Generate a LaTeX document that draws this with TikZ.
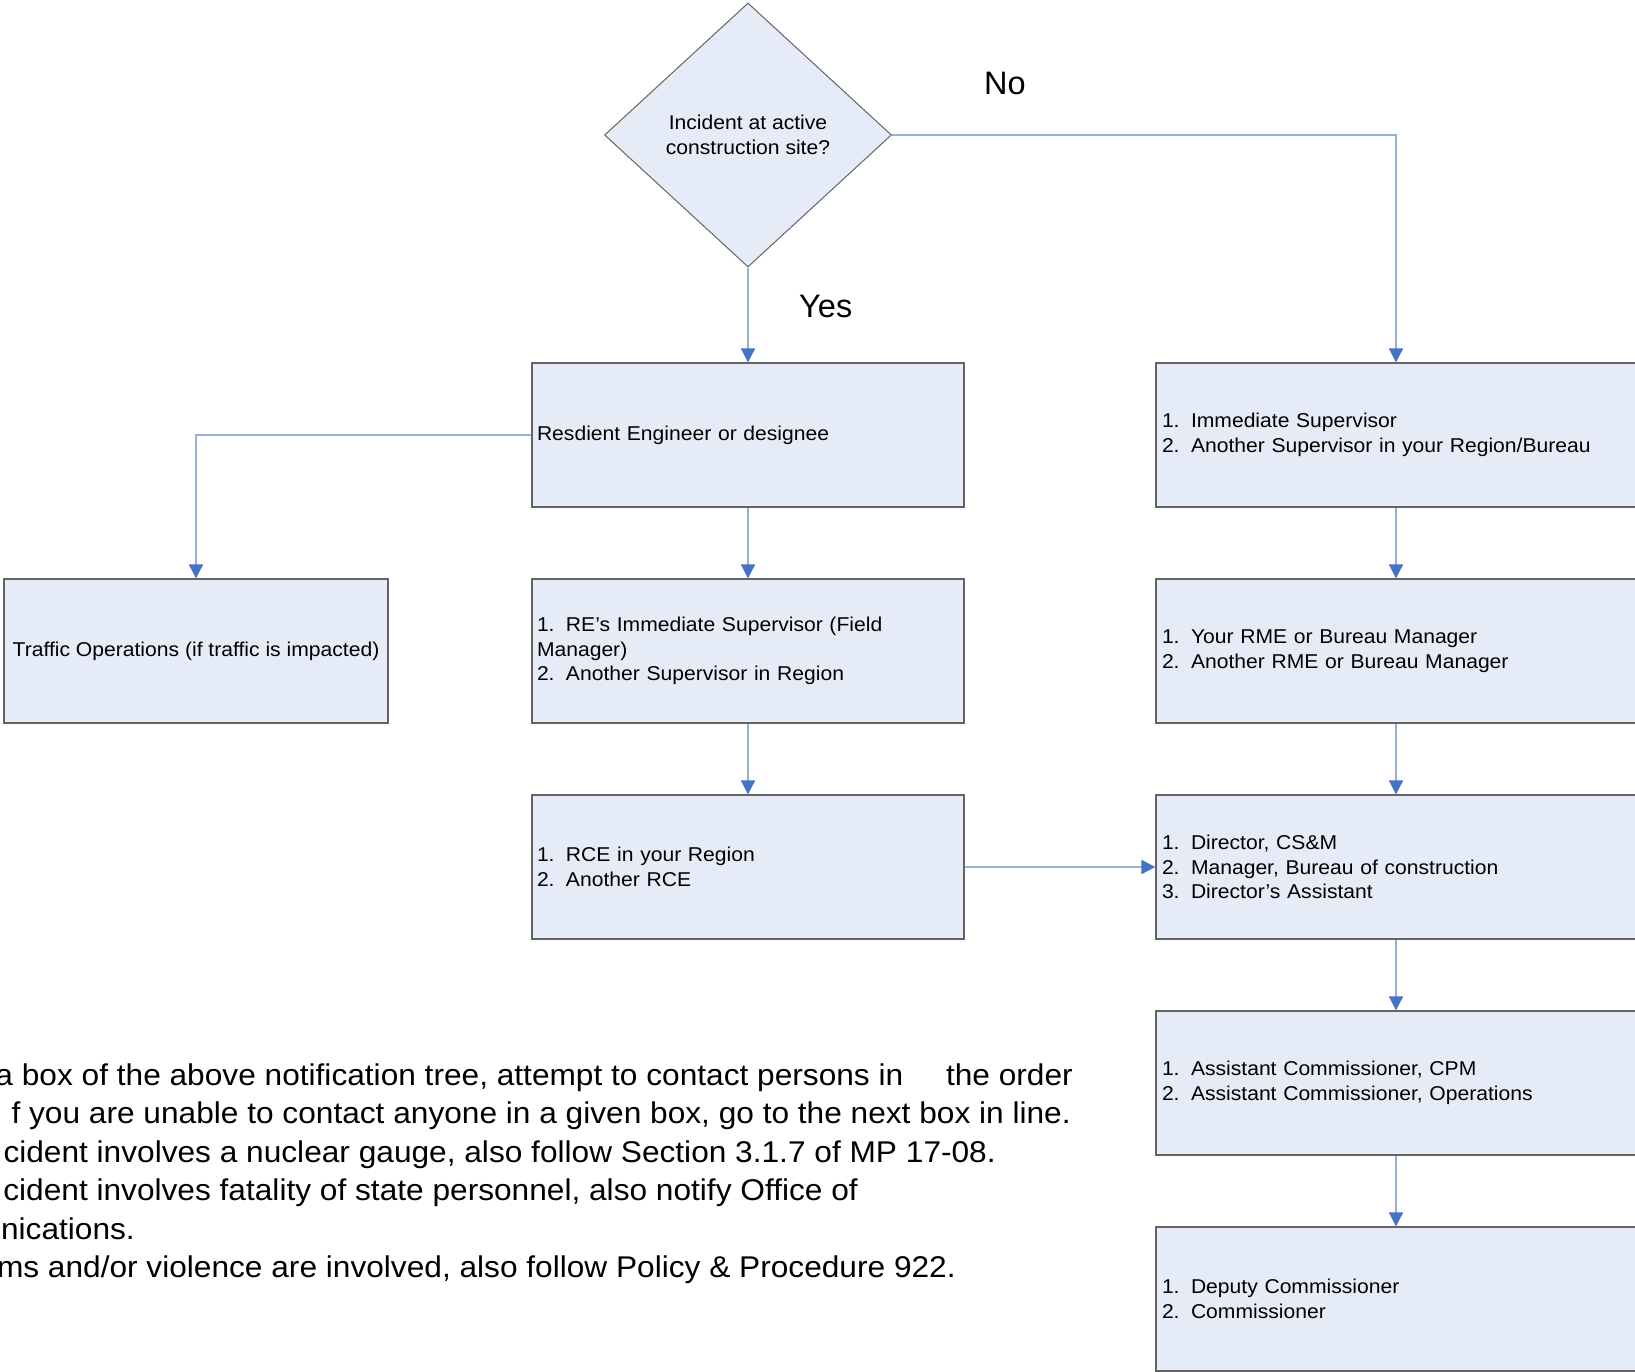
\documentclass[tikz,border=0pt]{standalone}
\usepackage{fontspec}
\setmainfont[FakeStretch=1.055]{Liberation Sans}
\newfontfamily\plainfont{Liberation Sans}
\usetikzlibrary{shapes.geometric,arrows.meta}
\definecolor{boxfill}{RGB}{230,236,247}
\definecolor{boxline}{RGB}{100,100,100}
\definecolor{connc}{RGB}{149,179,215}
\definecolor{tipc}{RGB}{68,114,196}
\newcommand\bxfont{\fontsize{20}{24.7}\selectfont}
\newcommand\notefont{\fontsize{30}{38.5}\selectfont}
\newcommand\lblfont{\plainfont\fontsize{32.5}{36}\selectfont}
\newcommand\itm[1]{\makebox[29pt][l]{#1}}
\begin{document}
\begin{tikzpicture}[x=1pt,y=-1pt,
  box/.style={draw=boxline,line width=1.3pt,fill=boxfill,rectangle,minimum height=144pt,inner ysep=0pt,font=\bxfont},
  midbox/.style={box,minimum width=432pt,text width=422pt,inner xsep=5pt,align=left},
  rbox/.style={box,minimum width=480pt,text width=468pt,inner xsep=6pt,align=left},
  conn/.style={draw=connc,line width=2pt,-{Triangle[width=14pt,length=14pt,color=tipc,fill=tipc]}},
  note/.style={anchor=base east,inner sep=0pt,font=\notefont},
  lbl/.style={anchor=base west,inner sep=0pt,font=\lblfont}]
\useasboundingbox[fill=white] (0,0) rectangle (1635,1371);

\node[diamond,draw=boxline,line width=1pt,fill=boxfill,minimum width=287pt,minimum height=264pt,inner sep=0pt,align=center,font=\bxfont] (dia) at (748,135) {Incident at active\\construction site?};

\node[midbox] (m1) at (748,435) {Resdient Engineer or designee};
\node[midbox] (m2) at (748,651) {\itm{1.}RE’s Immediate Supervisor (Field\\Manager)\\\itm{2.}Another Supervisor in Region};
\node[midbox] (m3) at (748,867) {\itm{1.}RCE in your Region\\\itm{2.}Another RCE};

\node[box,minimum width=384pt,inner xsep=2pt,align=center] (tr) at (196,651) {Traffic Operations (if traffic is impacted)};

\node[rbox] (r1) at (1396,435) {\itm{1.}Immediate Supervisor\\\itm{2.}Another Supervisor in your Region/Bureau};
\node[rbox] (r2) at (1396,651) {\itm{1.}Your RME or Bureau Manager\\\itm{2.}Another RME or Bureau Manager};
\node[rbox] (r3) at (1396,867) {\itm{1.}Director, CS\&M\\\itm{2.}Manager, Bureau of construction\\\itm{3.}Director’s Assistant};
\node[rbox] (r4) at (1396,1083) {\itm{1.}Assistant Commissioner, CPM\\\itm{2.}Assistant Commissioner, Operations};
\node[rbox] (r5) at (1396,1299) {\itm{1.}Deputy Commissioner\\\itm{2.}Commissioner};

\node[lbl] (no) at (984,94) {No};
\node[lbl] (yes) at (799,317) {Yes};

\draw[conn] (dia.south) -- (m1.north);
\draw[conn] (dia.east) -| (r1.north);
\draw[conn] (m1.west) -| (tr.north);
\draw[conn] (m1.south) -- (m2.north);
\draw[conn] (m2.south) -- (m3.north);
\draw[conn] (m3.east) -- (r3.west);
\draw[conn] (r1.south) -- (r2.north);
\draw[conn] (r2.south) -- (r3.north);
\draw[conn] (r3.south) -- (r4.north);
\draw[conn] (r4.south) -- (r5.north);

\node[note] (n1) at (1073,1085) {a box of the above notification tree, attempt to contact persons in\hspace{34pt} the order};
\node[note] (n2) at (1071,1123.5) {f you are unable to contact anyone in a given box, go to the next box in line.};
\node[note] (n3) at (996,1162) {cident involves a nuclear gauge, also follow Section 3.1.7 of MP 17-08.};
\node[note] (n4) at (858,1200.5) {cident involves fatality of state personnel, also notify Office of};
\node[note] (n5) at (135,1239) {nications.};
\node[note] (n6) at (956,1277.5) {ms and/or violence are involved, also follow Policy \& Procedure 922.};
\end{tikzpicture}
\end{document}
